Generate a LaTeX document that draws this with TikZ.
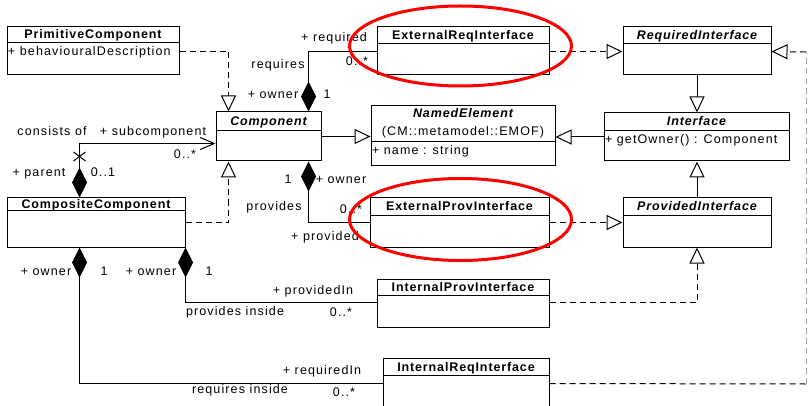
\documentclass[tikz,border=0pt]{standalone}
\usepackage{fontspec}
\setmainfont{Liberation Sans}[LetterSpace=9, BoldFeatures={LetterSpace=7}, BoldItalicFeatures={LetterSpace=7}]
\usetikzlibrary{arrows.meta,calc}
\begin{document}
\fontsize{12.5pt}{14pt}\selectfont
\begin{tikzpicture}[x=1pt,y=-1pt, line width=1pt,
  cls/.style={draw, rectangle, inner sep=0pt, fill=white},
  txt/.style={inner sep=0pt, text height=9pt, text depth=0pt},
  ttl/.style={txt, font=\bfseries},
  ttli/.style={txt, font=\bfseries\itshape},
  attr/.style={txt, anchor=west},
  lbl/.style={txt},
  gen/.style={-{Triangle[open,length=16pt,width=15pt,fill=white]}},
  real/.style={gen, dash pattern=on 6pt off 4pt},
  dsh/.style={dash pattern=on 6pt off 4pt},
  compo/.style={{Diamond[length=30pt,width=15pt]}-},
  compnav/.style={{Diamond[length=30pt,width=15pt]}-{Straight Barb[length=14pt,width=12pt]}},
  hl/.style={draw=red, line width=3pt},
]
\clip (0,0) rectangle (808,406);
\fill[white] (0,0) rectangle (808,406);

% ---------- classes ----------
\node[cls, minimum width=172pt, minimum height=48pt] (prim) at (93,51) {};
\draw ($(prim.north west)+(0,16)$) -- ($(prim.north east)+(0,16)$);
\node[ttl] (primT) at ($(prim.north)+(0,8)$) {PrimitiveComponent};
\node[attr] (primA) at ($(prim.north west)+(1,25)$) {+ behaviouralDescription};

\node[cls, minimum width=105pt, minimum height=49pt] (comp) at (268.5,136.5) {};
\draw ($(comp.north west)+(0,19)$) -- ($(comp.north east)+(0,19)$);
\node[ttli] (compT) at ($(comp.north)+(0,9.5)$) {Component};

\node[cls, minimum width=172pt, minimum height=48pt] (ereq) at (463,51) {};
\draw ($(ereq.north west)+(0,17)$) -- ($(ereq.north east)+(0,17)$);
\node[ttl] (ereqT) at ($(ereq.north)+(0,8.5)$) {ExternalReqInterface};

\node[cls, minimum width=184pt, minimum height=60pt] (named) at (463,136) {};
\draw ($(named.north west)+(0,36)$) -- ($(named.north east)+(0,36)$);
\node[ttli] (namedT) at ($(named.north)+(0,7.5)$) {NamedElement};
\node[txt] (namedS) at ($(named.north)+(0,26)$) {(CM::metamodel::EMOF)};
\node[attr] (namedA) at ($(named.north west)+(1,45)$) {+ name : string};

\node[cls, minimum width=148pt, minimum height=48pt] (reqi) at (697,51) {};
\draw ($(reqi.north west)+(0,17)$) -- ($(reqi.north east)+(0,17)$);
\node[ttli] (reqiT) at ($(reqi.north)+(0,8.5)$) {RequiredInterface};

\node[cls, minimum width=185pt, minimum height=48pt] (iface) at (696.5,137) {};
\draw ($(iface.north west)+(0,18)$) -- ($(iface.north east)+(0,18)$);
\node[ttli] (ifaceT) at ($(iface.north)+(0,8.5)$) {Interface};
\node[attr] (ifaceA) at ($(iface.north west)+(1,27)$) {+ getOwner() : Component};

\node[cls, minimum width=179pt, minimum height=49pt] (eprov) at (459.5,222.5) {};
\draw ($(eprov.north west)+(0,18)$) -- ($(eprov.north east)+(0,18)$);
\node[ttl] (eprovT) at ($(eprov.north)+(0,9)$) {ExternalProvInterface};

\node[cls, minimum width=148pt, minimum height=49pt] (provi) at (697,222.5) {};
\draw ($(provi.north west)+(0,18)$) -- ($(provi.north east)+(0,18)$);
\node[ttli] (proviT) at ($(provi.north)+(0,9)$) {ProvidedInterface};

\node[cls, minimum width=178pt, minimum height=49pt] (comps) at (96,222.5) {};
\draw ($(comps.north west)+(0,13)$) -- ($(comps.north east)+(0,13)$);
\node[ttl] (compsT) at ($(comps.north)+(0,6.5)$) {CompositeComponent};

\node[cls, minimum width=172pt, minimum height=48pt] (iprov) at (463,303) {};
\draw ($(iprov.north west)+(0,17)$) -- ($(iprov.north east)+(0,17)$);
\node[ttl] (iprovT) at ($(iprov.north)+(0,8.5)$) {InternalProvInterface};

\node[cls, minimum width=166pt, minimum height=66pt] (ireq) at (466,391) {};
\draw ($(ireq.north west)+(0,18)$) -- ($(ireq.north east)+(0,18)$);
\node[ttl] (ireqT) at ($(ireq.north)+(0,9)$) {InternalReqInterface};

% ---------- generalizations / realizations ----------
\draw[real] ($(prim.north east)+(0,25)$) -| ($(comp.north west)+(13,0)$);
\draw[real] ($(comps.north east)+(0,25)$) -| ($(comp.south west)+(13,0)$);
\draw[gen] (comp.east) -- (comp.east -| named.west);
\draw[gen] (iface.west) -- (iface.west -| named.east);
\draw[gen] (reqi.south) -- (reqi.south |- iface.north);
\draw[gen] (provi.north) -- (provi.north |- iface.south);
\draw[real] ($(ereq.north east)+(0,25)$) -- ($(reqi.north west)+(0,25)$);
\draw[real] ($(eprov.north east)+(0,25)$) -- ($(provi.north west)+(0,25)$);
\draw[real] ($(iprov.north east)+(0,24)$) -| (provi.south);
\coordinate (rb) at (806,384);
\coordinate (rt) at (806,52);
\draw[dsh] ($(ireq.north east)+(0,26)$) -- (rb);
\draw[dsh, draw=gray!70] (rb) -- (rt);
\draw[real] (rt) -- ($(reqi.north east)+(0,25)$);

% ---------- compositions ----------
\draw[compo] ($(comp.north west)+(93,0)$) |- ($(ereq.north west)+(0,25)$);
\draw[compo] ($(comp.south west)+(93,0)$) |- ($(eprov.north west)+(0,25)$);
\draw[compnav] ($(comps.north west)+(73,0)$) |- ($(comp.north west)+(0,32)$);
\coordinate (xm) at ($(comps.north west)+(73,-41)$);
\draw (xm)+(-6,-4.5) -- +(6,4.5);
\draw (xm)+(-6,4.5) -- +(6,-4.5);
\draw[compo] ($(comps.south west)+(73,0)$) |- ($(ireq.north west)+(0,26)$);
\draw[compo] (comps.south east) |- ($(iprov.north west)+(0,24)$);

% ---------- labels ----------
\node[lbl] (l1) at (334,37) {+ required};
\node[lbl] (l2) at (278,64) {requires};
\node[lbl] (l3) at (357,61) {0..*};
\node[lbl] (l4) at (273,94) {+ owner};
\node[lbl] (l5) at (327,94) {1};
\node[lbl] (l6) at (288,179) {1};
\node[lbl] (l7) at (341,179) {+ owner};
\node[lbl] (l8) at (274,206) {provides};
\node[lbl] (l9) at (351,209) {0..*};
\node[lbl] (l10) at (325,236) {+ provided};
\node[lbl] (l11) at (52,131) {consists of};
\node[lbl] (l12) at (153,131) {+ subcomponent};
\node[lbl] (l13) at (185,154) {0..*};
\node[lbl] (l14) at (39,172) {+ parent};
\node[lbl] (l15) at (103,172) {0..1};
\node[lbl] (l16) at (46,271) {+ owner};
\node[lbl] (l17) at (104,271) {1};
\node[lbl] (l18) at (151,271) {+ owner};
\node[lbl] (l19) at (209,271) {1};
\node[lbl] (l20) at (313,290) {+ providedIn};
\node[lbl] (l21) at (235,311) {provides inside};
\node[lbl] (l22) at (341,312) {0..*};
\node[lbl] (l23) at (322,370) {+ requiredIn};
\node[lbl] (l24) at (240,389) {requires inside};
\node[lbl] (l25) at (344,392) {0..*};

% ---------- highlights ----------
\draw[hl] (460.5,46) ellipse [x radius=111pt, y radius=40pt];
\draw[hl] (460.5,219.5) ellipse [x radius=111pt, y radius=41pt];
\end{tikzpicture}
\end{document}
